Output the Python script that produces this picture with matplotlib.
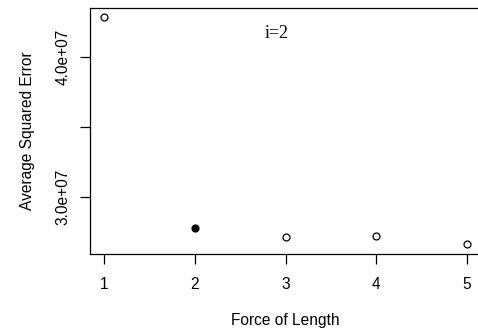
import matplotlib.pyplot as plt
import numpy as np

# values
force = [1, 2, 3, 4, 5]
avg_sq_err = [4.29e7, 2.773e7, 2.709e7, 2.718e7, 2.658e7]
best = 2
y_ticks = [3.0e7, 3.5e7, 4.0e7]
y_tick_labels = ['3.0e+07', '', '4.0e+07']

plt.rcParams['font.family'] = ['Liberation Sans', 'DejaVu Sans']

fig = plt.figure(figsize=(4.78, 3.36), dpi=100)
ax = fig.add_axes([89.5 / 478, 82.5 / 336, 392 / 478, 245.7 / 336])

x = np.array(force)
y = np.array(avg_sq_err)
other = x != best
ax.plot(x[other], y[other], 'o', mfc='white', mec='black', ms=5, mew=0.9)
ax.plot(x[~other], y[~other], 'o', mfc='black', mec='black', ms=5, mew=0.9)

# R style 4% padding
pad_x = (x.max() - x.min()) * 0.04
pad_y = (y.max() - y.min()) * 0.04
ax.set_xlim(x.min() - pad_x, x.max() + pad_x)
ax.set_ylim(y.min() - pad_y, y.max() + pad_y)

ax.set_xticks(force)
ax.set_yticks(y_ticks)
ax.set_yticklabels(y_tick_labels, rotation=90, va='center')
ax.tick_params(direction='out', length=7, width=0.9, labelsize=11.2)
ax.tick_params(axis='x', pad=10)
ax.tick_params(axis='y', pad=6.5)

# right border is cut off in the reference
ax.spines['right'].set_visible(False)
for s in ax.spines.values():
    s.set_linewidth(0.9)

ax.set_xlabel('Force of Length', fontsize=11.2, labelpad=15)
ax.set_ylabel('Average Squared Error', fontsize=11.2, labelpad=15)

ax.text(2.9, 4.17e7, 'i=2', family=['Liberation Serif'], fontsize=13,
        ha='center', va='center')

fig.savefig('out.png', dpi=100)
